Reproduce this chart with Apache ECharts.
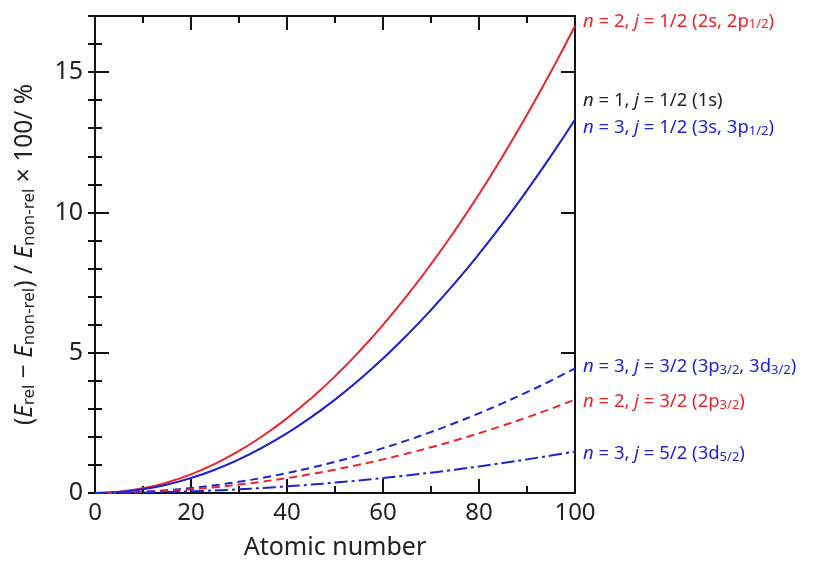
<!DOCTYPE html>
<html><head><meta charset="utf-8">
<script src="https://cdn.jsdelivr.net/npm/echarts@6/dist/echarts.min.js"></script>
<style>html,body{margin:0;padding:0;background:#fff}#c{width:815px;height:565px}</style>
</head><body><div id="c"></div>
<script>
// Atomic number Z
const atomicNumbers = [0,5,10,15,20,25,30,35,40,45,50,55,60,65,70,75,80,85,90,95,100];
// relativistic correction (%)
const n1j12 = [0,0.033,0.133,0.300,0.533,0.832,1.198,1.631,2.130,2.696,3.328,4.027,4.793,5.625,6.523,7.488,8.520,9.618,10.783,12.015,13.313];
const n2j12 = [0,0.042,0.166,0.374,0.666,1.040,1.498,2.039,2.663,3.370,4.160,5.034,5.991,7.031,8.154,9.361,10.650,12.023,13.479,15.018,16.641];
const n3j12 = [0,0.033,0.133,0.300,0.533,0.832,1.198,1.631,2.130,2.696,3.328,4.027,4.793,5.625,6.523,7.488,8.520,9.618,10.783,12.015,13.313];
const n3j32 = [0,0.011,0.044,0.100,0.178,0.277,0.399,0.544,0.710,0.899,1.109,1.342,1.598,1.875,2.174,2.496,2.840,3.206,3.594,4.005,4.438];
const n2j32 = [0,0.008,0.033,0.075,0.133,0.208,0.300,0.408,0.533,0.674,0.832,1.007,1.198,1.406,1.631,1.872,2.130,2.405,2.696,3.004,3.328];
const n3j52 = [0,0.004,0.015,0.033,0.059,0.092,0.133,0.181,0.237,0.300,0.370,0.447,0.533,0.625,0.725,0.832,0.947,1.069,1.198,1.335,1.479];
const xTicks = [0,20,40,60,80,100];
const yTicks = [0,5,10,15];

const RED = '#e8262b', BLUE = '#2121d6', BLACK = '#222222';
const FONT = 'Noto Sans';
const pair = a => atomicNumbers.map((z,i)=>[z,a[i]]);

function richFor(color){
  return {
    i:{fontFamily:FONT,fontSize:18.5,fontStyle:'italic',color:color,lineHeight:24,verticalAlign:'bottom'},
    t:{fontFamily:FONT,fontSize:18.5,color:color,lineHeight:24,verticalAlign:'bottom'},
    s:{fontFamily:FONT,fontSize:13,color:color,lineHeight:18,verticalAlign:'bottom'}
  };
}
function mkSeries(name, data, color, type, label, offset, width){
  return {
    name, type:'line', data: pair(data), smooth:true, showSymbol:false, symbol:'none',
    xAxisIndex:0, yAxisIndex:0,
    lineStyle:{color, width: width || 2, type},
    endLabel:{show:true, formatter: label, offset, distance:8, rich: richFor(color), color},
    silent:true, z: color===BLACK?1:2
  };
}

const chart = echarts.init(document.getElementById('c'));
const axisLineStyle = {color:'#111', width:2};
const option = {
  animation:false,
  backgroundColor:'#fff',
  grid:{left:95, right:240, top:16, bottom:68},
  xAxis:[
    {type:'value', position:'bottom', min:0, max:100, interval:20,
     axisLine:{show:true, lineStyle:axisLineStyle, onZero:false},
     axisTick:{show:true, inside:true, length:14, lineStyle:{width:2,color:'#111'}},
     minorTick:{show:true, splitNumber:2, length:7, lineStyle:{width:2,color:'#111'}},
     splitLine:{show:false},
     axisLabel:{fontFamily:FONT, fontSize:24, color:'#222', margin:8,
       formatter: v => xTicks.includes(v) ? String(v) : ''},
     name:'Atomic number', nameLocation:'middle', nameGap:42,
     nameTextStyle:{fontFamily:FONT, fontSize:25, color:'#222'}},
    {type:'value', position:'top', min:0, max:100, interval:20,
     axisLine:{show:true, lineStyle:axisLineStyle, onZero:false},
     axisTick:{show:true, inside:true, length:14, lineStyle:{width:2,color:'#111'}},
     minorTick:{show:true, splitNumber:2, length:7, lineStyle:{width:2,color:'#111'}},
     splitLine:{show:false}, axisLabel:{show:false}}
  ],
  yAxis:[
    {type:'value', position:'left', min:0, max:17, interval:5,
     axisLine:{show:true, lineStyle:axisLineStyle, onZero:false},
     axisTick:{show:true, inside:true, length:14, lineStyle:{width:2,color:'#111'}},
     splitLine:{show:false},
     axisLabel:{fontFamily:FONT, fontSize:25, color:'#222', margin:12,
       formatter: v => yTicks.includes(v) ? String(v) : ''},
     name:'{p|(}{e|E}{s|rel}{p| − }{e|E}{s|non-rel}{p|) / }{e|E}{s|non-rel}{p| × 100/ %}',
     nameLocation:'middle', nameRotate:90, nameGap:57,
     nameTextStyle:{color:'#222', rich:{
       p:{fontFamily:FONT,fontSize:24.5,color:'#222',lineHeight:30,verticalAlign:'bottom'},
       e:{fontFamily:FONT,fontSize:24.5,fontStyle:'italic',color:'#222',lineHeight:30,verticalAlign:'bottom'},
       s:{fontFamily:FONT,fontSize:17,color:'#222',lineHeight:24,verticalAlign:'bottom'}
     }}},
    {type:'value', position:'left', min:0, max:17, interval:1,
     axisLine:{show:false}, axisTick:{show:true, inside:true, length:7, lineStyle:{width:2,color:'#111'}},
     splitLine:{show:false}, axisLabel:{show:false}},
    {type:'value', position:'right', min:0, max:17, interval:5,
     axisLine:{show:true, lineStyle:axisLineStyle, onZero:false},
     axisTick:{show:true, inside:true, length:14, lineStyle:{width:2,color:'#111'}},
     splitLine:{show:false}, axisLabel:{show:false}},
    {type:'value', position:'right', min:0, max:17, interval:1,
     axisLine:{show:false}, axisTick:{show:true, inside:true, length:7, lineStyle:{width:2,color:'#111'}},
     splitLine:{show:false}, axisLabel:{show:false}}
  ],
  series:[
    mkSeries('n1j12', n1j12, BLACK, 'solid', '{i|n}{t| = 1, }{i|j}{t| = 1/2 (1s)}', [0,-21], 1.2),
    mkSeries('n2j12', n2j12, RED, 'solid', '{i|n}{t| = 2, }{i|j}{t| = 1/2 (2s, 2p}{s|1/2}{t|)}', [0,-7]),
    mkSeries('n3j12', n3j12, BLUE, 'solid', '{i|n}{t| = 3, }{i|j}{t| = 1/2 (3s, 3p}{s|1/2}{t|)}', [0,6]),
    mkSeries('n3j32', n3j32, BLUE, [8,5], '{i|n}{t| = 3, }{i|j}{t| = 3/2 (3p}{s|3/2}{t|, 3d}{s|3/2}{t|)}', [0,-4]),
    mkSeries('n2j32', n2j32, RED, [8,5], '{i|n}{t| = 2, }{i|j}{t| = 3/2 (2p}{s|3/2}{t|)}', [0,0]),
    mkSeries('n3j52', n3j52, BLUE, [13,4,3,4], '{i|n}{t| = 3, }{i|j}{t| = 5/2 (3d}{s|5/2}{t|)}', [0,0])
  ]
};
chart.setOption(option);
</script></body></html>
